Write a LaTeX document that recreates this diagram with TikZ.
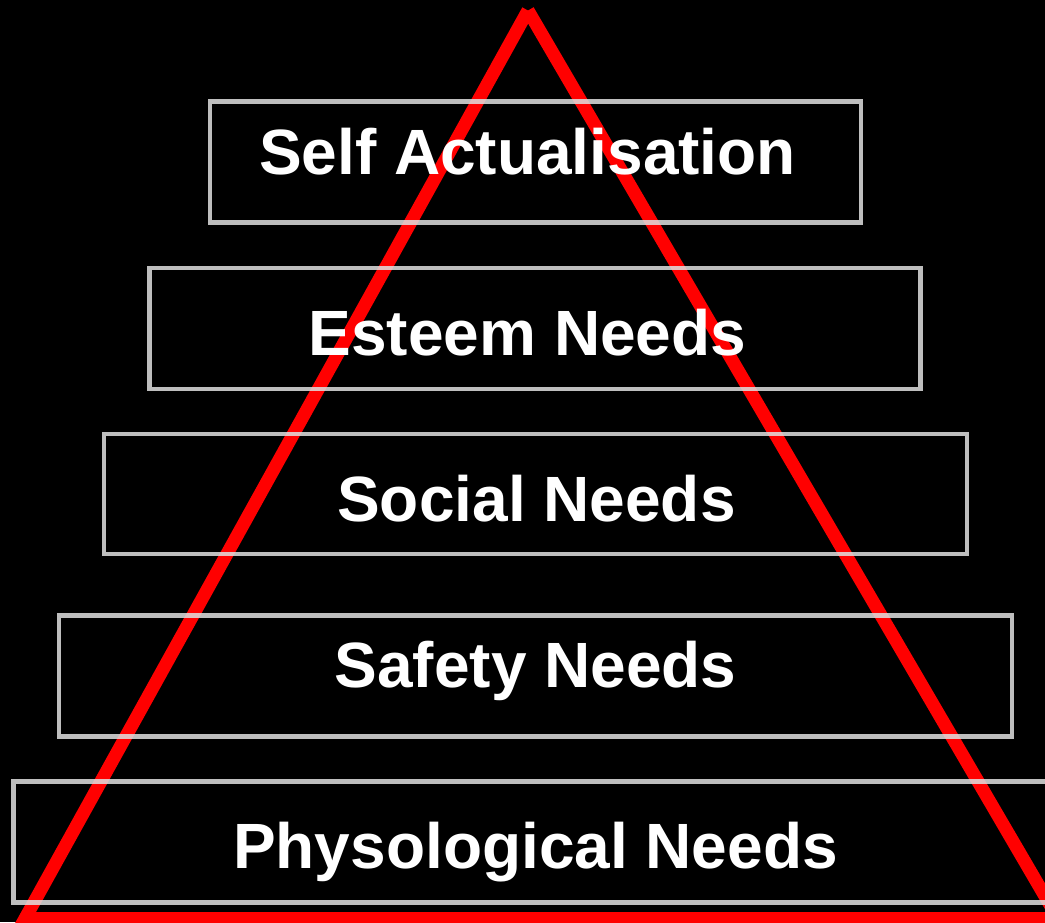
\documentclass[tikz,border=0pt]{standalone}
\usepackage{fontspec}
\setmainfont{Liberation Sans}
\definecolor{boxgray}{HTML}{E0E0E0}
\definecolor{pyrred}{HTML}{FF0000}
\begin{document}
\begin{tikzpicture}[x=0.75pt,y=-0.75pt,
  level/.style={draw=boxgray,draw opacity=0.85,line width=3.4pt,inner sep=0pt,outer sep=0pt},
  label/.style={text=white,font=\bfseries\fontsize{48}{56}\selectfont,anchor=base,inner sep=0pt},
  pyramid/.style={draw=pyrred,line width=9.75pt,line cap=butt,line join=miter}]
\fill[black] (0,0) rectangle (1045,922);
\useasboundingbox (0,0) rectangle (1045,922);
\begin{scope}
\clip (0,0) rectangle (1045,922);
% triangle
\coordinate (apex) at (528,10.5);
\coordinate (bl) at (25,918.5);
\coordinate (br) at (1058,918.5);
\draw[pyramid] (apex) -- (bl) -- (br) -- (apex);
% level boxes
\node[level,minimum width=651*0.75pt,minimum height=121*0.75pt] (b1) at (535.5,162) {};
\node[level,minimum width=771*0.75pt,minimum height=121*0.75pt] (b2) at (535,328.5) {};
\node[level,minimum width=863*0.75pt,minimum height=120*0.75pt] (b3) at (535.5,494) {};
\node[level,minimum width=953*0.75pt,minimum height=121*0.75pt] (b4) at (535.5,676) {};
\node[level,minimum width=1036.5*0.75pt,minimum height=121*0.75pt] (b5) at (531.75,842) {};
% labels
\node[label] (t1) at (527.5,174.5) {Self Actualisation};
\node[label] (t2) at (527.5,355.5) {Esteem Needs};
\node[label] (t3) at (536.5,521) {Social Needs};
\node[label] (t4) at (535.5,687.5) {Safety Needs};
\node[label] (t5) at (535.5,868.5) {Physological Needs};
\end{scope}
\end{tikzpicture}
\end{document}
